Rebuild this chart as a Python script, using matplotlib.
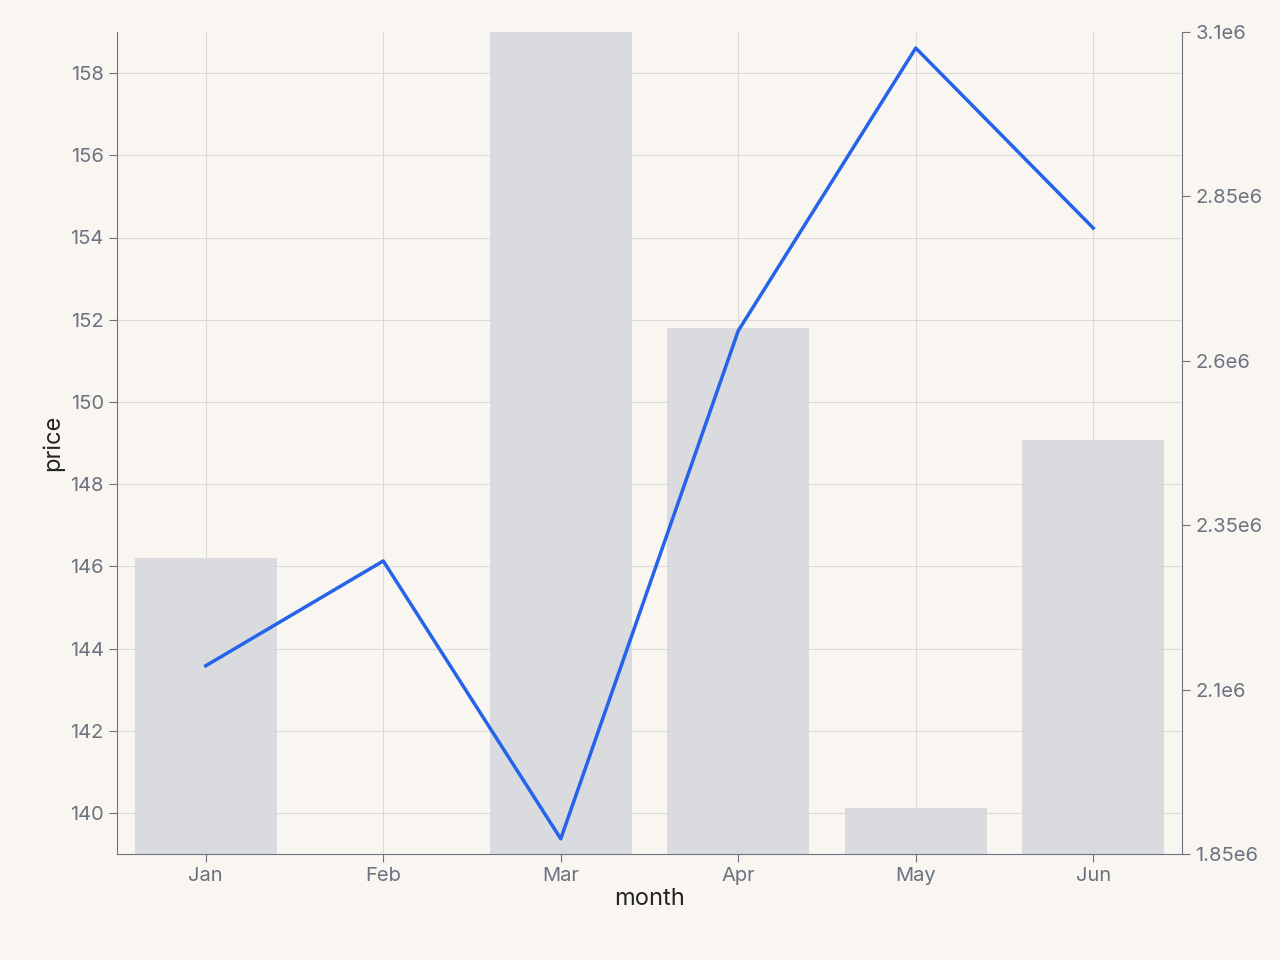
import matplotlib
matplotlib.use("Agg")
import matplotlib.pyplot as plt

months = ["Jan", "Feb", "Mar", "Apr", "May", "Jun"]
price = [143.58, 146.13, 139.37, 151.73, 158.61, 154.23]
volume = [2.30e6, 1.80e6, 3.2e6, 2.65e6, 1.92e6, 2.48e6]

plt.rcParams['font.family'] = ['Inter', 'DejaVu Sans']
bg = "#f9f6f1"
fig = plt.figure(figsize=(12.8, 9.6), dpi=100, facecolor=bg)
ax = fig.add_axes([117/1280, 1-854/960, (1182-117)/1280, (854-32)/960])
ax2 = ax.twinx()
x = list(range(len(months)))
ax2.bar(x, volume, width=0.8, color="#d1d5db", alpha=0.8, zorder=1)
ax2.set_ylim(1.85e6, 3.1e6)
ax2.set_yticks([1.85e6, 2.1e6, 2.35e6, 2.6e6, 2.85e6, 3.1e6])
ax2.set_yticklabels(["1.85e6", "2.1e6", "2.35e6", "2.6e6", "2.85e6", "3.1e6"])
ax2.set_facecolor(bg)

ax.set_zorder(ax2.get_zorder() + 1)
ax.patch.set_visible(False)
ax.plot(x, price, color="#2563eb", lw=2.5, zorder=3)
ax.set_ylim(139, 159)
ax.set_yticks(range(140, 159, 2))
ax.set_xlim(-0.5, 5.5)
ax.set_xticks(x)
ax.set_xticklabels(months)
ax.grid(True, color="#d9d9d9", lw=0.8)
ax.set_axisbelow(True)
ax.set_xlabel("month", fontsize=17, color="#222222", labelpad=2)
ax.set_ylabel("price", fontsize=17, color="#222222")

for a in (ax, ax2):
    for s in a.spines.values():
        s.set_color("#6b7280")
    a.spines['top'].set_visible(False)
    a.tick_params(colors="#6b7280", labelsize=14.5, length=6)
ax.spines['right'].set_visible(False)
ax2.spines['left'].set_visible(False)
ax2.spines['bottom'].set_visible(False)

fig.savefig("out.png", dpi=100, facecolor=bg)
